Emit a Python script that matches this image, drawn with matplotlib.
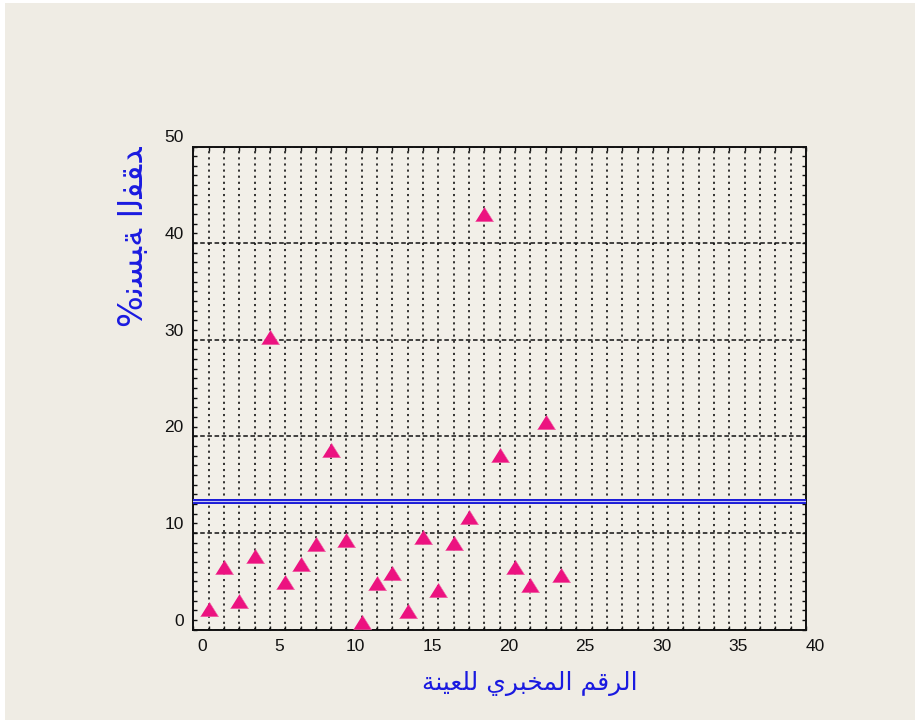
import matplotlib
matplotlib.use("Agg")
import matplotlib.pyplot as plt
from matplotlib.patches import Rectangle
from matplotlib.transforms import ScaledTranslation

# Sample numbers and measured loss percentage
sample_no = [1, 2, 3, 4, 5, 6, 7, 8, 9, 10, 11, 12,
             13, 14, 15, 16, 17, 18, 19, 20, 21, 22, 23, 24]
loss_pct = [2.1, 6.5, 3.0, 7.6, 30.3, 4.9, 6.8, 8.9, 18.6, 9.3, 0.8, 4.8,
            5.9, 1.9, 9.6, 4.1, 9.0, 11.6, 43.0, 18.1, 6.5, 4.6, 21.5, 5.6]
limit_line = 13.3

x_ticks = [0, 5, 10, 15, 20, 25, 30, 35, 40]
y_ticks = [0, 10, 20, 30, 40, 50]

x_title = "الرقم المخبري للعينة"
y_title = "%نسبة الفقد"

# Contextual forms (isolated, final, initial, medial) for the letters used
FORMS = {
    'ا': (0xFE8D, 0xFE8E, None, None),
    'ب': (0xFE8F, 0xFE90, 0xFE91, 0xFE92),
    'ة': (0xFE93, 0xFE94, None, None),
    'خ': (0xFEA5, 0xFEA6, 0xFEA7, 0xFEA8),
    'د': (0xFEA9, 0xFEAA, None, None),
    'ر': (0xFEAD, 0xFEAE, None, None),
    'س': (0xFEB1, 0xFEB2, 0xFEB3, 0xFEB4),
    'ع': (0xFEC9, 0xFECA, 0xFECB, 0xFECC),
    'ف': (0xFED1, 0xFED2, 0xFED3, 0xFED4),
    'ق': (0xFED5, 0xFED6, 0xFED7, 0xFED8),
    'ل': (0xFEDD, 0xFEDE, 0xFEDF, 0xFEE0),
    'م': (0xFEE1, 0xFEE2, 0xFEE3, 0xFEE4),
    'ن': (0xFEE5, 0xFEE6, 0xFEE7, 0xFEE8),
    'ي': (0xFEF1, 0xFEF2, 0xFEF3, 0xFEF4),
}


def shape(text):
    out = []
    for i, ch in enumerate(text):
        if ch not in FORMS:
            out.append(ch)
            continue
        iso, fin, ini, med = FORMS[ch]
        prev = text[i - 1] if i > 0 else ''
        nxt = text[i + 1] if i + 1 < len(text) else ''
        join_prev = prev in FORMS and FORMS[prev][2] is not None
        join_next = ini is not None and nxt in FORMS
        if join_prev and join_next:
            code = med
        elif join_prev:
            code = fin
        elif join_next:
            code = ini
        else:
            code = iso
        out.append(chr(code))
    return ''.join(out)


W, H = 915, 723
fig = plt.figure(figsize=(W / 100, H / 100), dpi=100, facecolor='white')
fig.patches.append(Rectangle((5 / W, 3 / H), 1 - 5 / W, 1 - 6 / H,
                             transform=fig.transFigure, facecolor='#efece4',
                             edgecolor='none', zorder=-10))

ax = fig.add_axes([193.3 / W, 1 - 629.5 / H, (806 - 193.3) / W, (629.5 - 146.5) / H])
ax.set_facecolor('#f2efe8')
ax.set_xlim(0, 40)
ax.set_ylim(0, 50)

ax.set_xticks(x_ticks)
ax.set_xticks(range(0, 41), minor=True)
ax.set_yticks(y_ticks)
ax.set_yticks(range(0, 51), minor=True)
ax.set_xticklabels([str(t) for t in x_ticks])
ax.set_yticklabels([str(t) for t in y_ticks])

ax.grid(axis='x', which='both', color='#000000', lw=1.1, ls=(0, (1.4, 2.6)))
ax.grid(axis='y', which='major', color='#111111', lw=1.1, ls=(0, (3.0, 1.7)))
ax.set_axisbelow(True)

for sp in ax.spines.values():
    sp.set_color('#111111')
    sp.set_linewidth(1.4)

ax.tick_params(which='both', direction='in', top=True, right=True,
               length=3, width=1.0, color='#111111')
ax.tick_params(which='major', labelsize=12.5, labelcolor='#111111', pad=7)

for lab in ax.get_xticklabels():
    lab.set_fontfamily('Liberation Sans')
    lab.set_transform(lab.get_transform() + ScaledTranslation(0.09, 0, fig.dpi_scale_trans))
for lab in ax.get_yticklabels():
    lab.set_fontfamily('Liberation Sans')
    lab.set_transform(lab.get_transform() + ScaledTranslation(0, 0.10, fig.dpi_scale_trans))

# Limit line drawn as a double blue rule
ax.axhline(limit_line, color='#1c1cd6', lw=3.6, zorder=3)
ax.axhline(limit_line, color='#c8c8f2', lw=0.8, zorder=3)

tri = [(-1, -0.8), (1, -0.8), (0, 0.8)]
ax.plot(sample_no, loss_pct, ls='none', marker=tri, ms=13,
        markerfacecolor='#ec1280', markeredgecolor='#f06aa8',
        markeredgewidth=0.4, clip_on=False, zorder=4)

# Axis titles (x reads right to left; y keeps the stored character order)
fig.text(530 / W, 1 - 684 / H, shape(x_title)[::-1], color='#1a1ae0',
         fontsize=18, family=['DejaVu Sans'], ha='center', va='center')
fig.text(133 / W, 1 - 237 / H, shape(y_title), color='#1a1ae0',
         fontsize=24, family=['DejaVu Sans'], ha='center', va='center',
         rotation=90)

fig.savefig('out.png', dpi=100, facecolor=fig.get_facecolor())
